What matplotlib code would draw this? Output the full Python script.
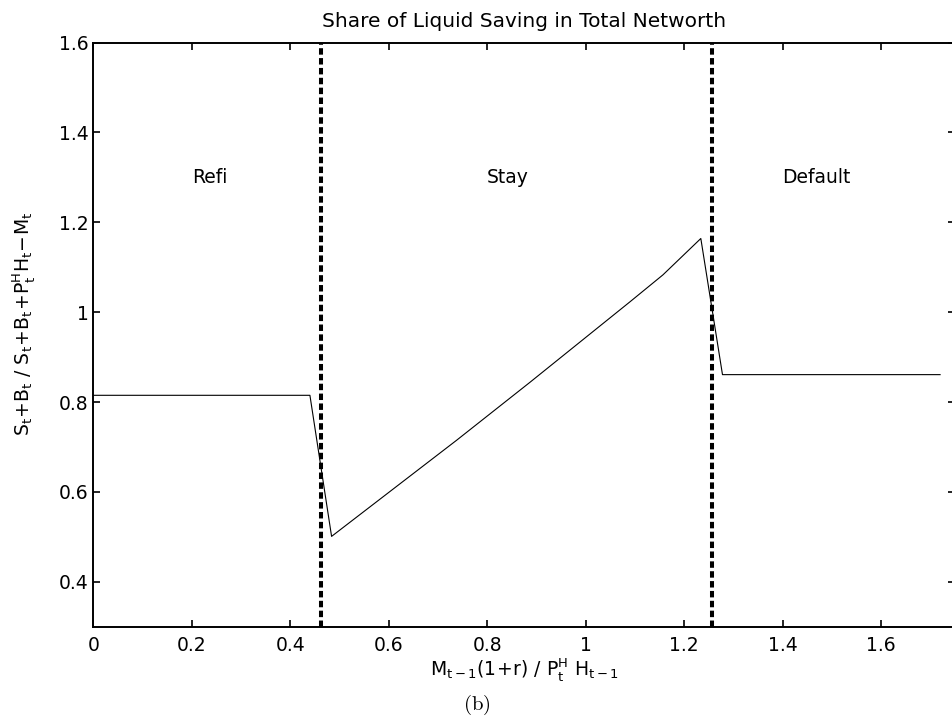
import numpy as np
import matplotlib
matplotlib.use("Agg")
import matplotlib.pyplot as plt

# Policy function: share of liquid saving in total net worth
leverage = [0.0, 0.44, 0.484, 0.738, 0.887, 1.090, 1.157, 1.234, 1.278, 1.72]
liquid_share = [0.815, 0.815, 0.501, 0.715, 0.844, 1.023, 1.083, 1.164, 0.861, 0.861]

# Region boundaries and their names
cutoffs = [0.462, 1.256]
region_names = ["Refi", "Stay", "Default"]
region_x = [0.2, 0.8, 1.4]
region_y = 1.3

xticks = [0, 0.2, 0.4, 0.6, 0.8, 1.0, 1.2, 1.4, 1.6]
xtick_labels = ["0", "0.2", "0.4", "0.6", "0.8", "1", "1.2", "1.4", "1.6"]
yticks = [0.4, 0.6, 0.8, 1.0, 1.2, 1.4, 1.6]
ytick_labels = ["0.4", "0.6", "0.8", "1", "1.2", "1.4", "1.6"]

plt.rcParams["font.family"] = "DejaVu Sans"
plt.rcParams["mathtext.fontset"] = "dejavusans"

fig = plt.figure(figsize=(9.52, 7.22), dpi=100)
ax = fig.add_axes([0.098, 0.132, 0.905, 0.809])

ax.plot(leverage, liquid_share, color="black", linewidth=0.8)
for c in cutoffs:
    ax.axvline(c, color="black", linewidth=2.9, linestyle=(0, (1.6, 0.85)))

for name, xx in zip(region_names, region_x):
    ax.text(xx, region_y, name, fontsize=13.5, ha="left", va="center")

ax.set_xlim(0, 1.75)
ax.set_ylim(0.3, 1.6)
ax.set_xticks(xticks)
ax.set_xticklabels(xtick_labels)
ax.set_yticks(yticks)
ax.set_yticklabels(ytick_labels)
ax.tick_params(direction="in", top=True, right=True, length=5, width=1.2,
               labelsize=13.5)
ax.tick_params(axis="x", pad=7)
ax.tick_params(axis="y", pad=3.5)
for sp in ax.spines.values():
    sp.set_linewidth(1.4)

ax.set_title("Share of Liquid Saving in Total Networth", fontsize=14.5, pad=11.5)
ax.set_xlabel(r"$\mathrm{M_{t-1}(1\!+\!r)\ /\ P^H_t\ H_{t-1}}$", fontsize=13.5)
ax.xaxis.set_label_coords(0.5, -0.05)
ax.set_ylabel(r"$\mathrm{S_t\!+\!B_t\ /\ S_t\!+\!B_t\!+\!P^H_tH_t\!-\!M_t}$", fontsize=13.5)
ax.yaxis.set_label_coords(-0.065, 0.518)

fig.text(0.501, 0.0235, r"$\mathrm{(b)}$", math_fontfamily="cm", fontsize=15,
         ha="center", va="center")

fig.savefig("out.png", dpi=100)
